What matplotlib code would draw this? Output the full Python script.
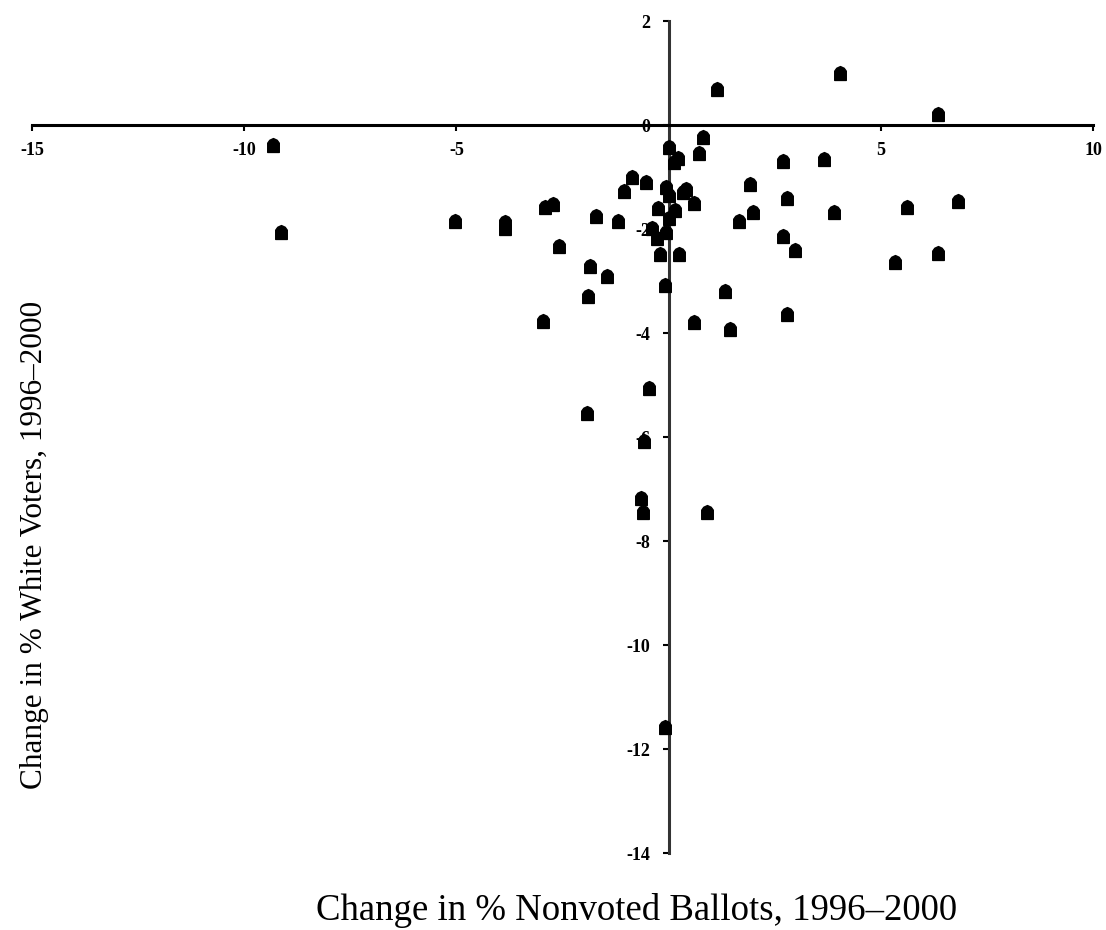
import matplotlib
matplotlib.use("Agg")
import matplotlib.pyplot as plt
from matplotlib.path import Path

# Data
nonvoted_change = [
    -9.33, -9.14, -5.04, -3.86, -3.86, -2.92, -2.73, -2.59, -1.70, -1.20,
    -1.86, -1.89, -1.44, -2.95, -1.93, -0.47, -0.57, -0.66, -0.61, 0.90,
    -0.09, 1.13, 4.03, 6.34, 0.80, 0.71, 0.00, 0.21, 0.12, -0.87,
    -0.54, -1.04, -0.05, 0.00, 0.35, 0.42, 0.59, -0.26, 0.14, 0.02,
    -0.40, -0.28, -0.05, -0.21, 0.24, -0.09, 0.61, 1.44, 1.34, 1.91,
    1.67, 1.98, 2.69, 2.80, 2.69, 2.97, 2.78, 3.65, 3.89, 5.61,
    6.83, 5.33, 6.34,
]
white_change = [
    -0.38, -2.06, -1.85, -1.87, -1.98, -1.58, -1.52, -2.33, -1.75, -1.85,
    -2.71, -3.29, -2.90, -3.77, -5.54, -5.06, -6.08, -7.17, -7.44, -7.44,
    -11.58, 0.69, 1.00, 0.21, -0.23, -0.54, -0.42, -0.63, -0.71, -1.00,
    -1.10, -1.27, -1.19, -1.35, -1.29, -1.23, -1.50, -1.60, -1.63, -1.79,
    -1.98, -2.17, -2.06, -2.48, -2.48, -3.08, -3.79, -3.92, -3.19, -1.13,
    -1.85, -1.67, -0.69, -1.40, -2.13, -2.40, -3.63, -0.65, -1.67, -1.58,
    -1.46, -2.63, -2.46,
]
x_ticks = [-15, -10, -5, 5, 10]
y_ticks = [2, 0, -2, -4, -6, -8, -10, -12, -14]
x_label = "Change in % Nonvoted Ballots, 1996\u20132000"
y_label = "Change in % White Voters, 1996\u20132000"

serif = ["Liberation Serif", "DejaVu Serif"]

fig = plt.figure(figsize=(11.06, 9.30), dpi=100)
W, H = 1106, 930
ax = fig.add_axes([32 / W, 1 - 853 / H, (1093 - 32) / W, (853 - 21) / H])
ax.set_xlim(-15, 10)
ax.set_ylim(-14, 2)

house = Path([(-0.5, -0.6), (0.5, -0.6), (0.5, 0.2), (0.32, 0.45), (0.0, 0.6),
              (-0.32, 0.45), (-0.5, 0.2), (-0.5, -0.6)],
             [Path.MOVETO] + [Path.LINETO] * 6 + [Path.CLOSEPOLY])

ax.plot(nonvoted_change, white_change, linestyle="none", marker=house,
        markersize=10, color="black", zorder=3)

for s in ["top", "right"]:
    ax.spines[s].set_visible(False)
ax.spines["left"].set_position(("data", 0))
ax.spines["bottom"].set_position(("data", 0))
ax.spines["left"].set_linewidth(2.2)
ax.spines["left"].set_color("#333333")
ax.spines["bottom"].set_linewidth(2.2)

ax.set_xticks(x_ticks)
ax.set_xticklabels([str(t) for t in x_ticks])
ax.set_yticks(y_ticks)
ax.set_yticklabels([str(t) for t in y_ticks])
ax.tick_params(axis="x", direction="out", length=4, width=1.5, pad=8)
ax.tick_params(axis="y", direction="out", length=4, width=1.5, pad=9)
for lab in ax.get_xticklabels() + ax.get_yticklabels():
    lab.set_fontfamily(serif)
    lab.set_fontweight("bold")
    lab.set_fontsize(13)

fig.text(637 / W, 1 - 910 / H, x_label, ha="center", va="center",
         fontsize=26.5, family=serif)
fig.text(35 / W, 1 - 545 / H, y_label, ha="center", va="center",
         rotation=90, fontsize=22.5, family=serif)

fig.savefig("out.png", dpi=100)
